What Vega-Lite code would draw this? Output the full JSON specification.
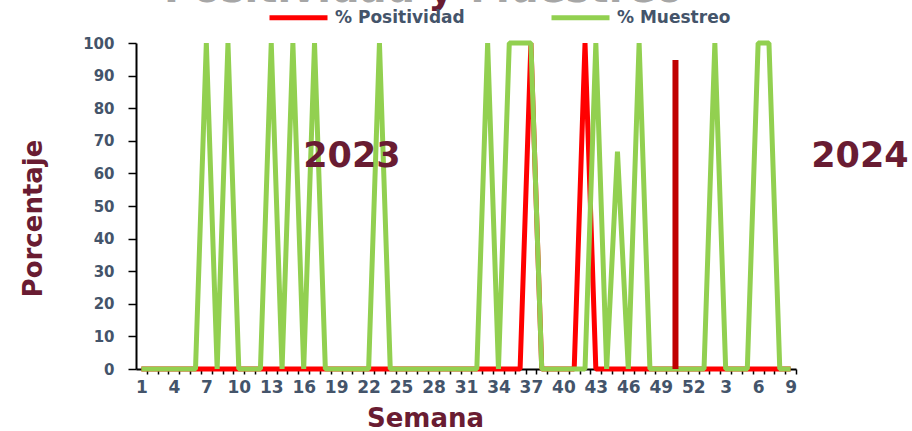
{
  "$schema": "https://vega.github.io/schema/vega-lite/v6.json",
  "width": 660,
  "height": 326,
  "autosize": {"type": "none"},
  "padding": {"left": 136, "top": 43, "right": 116, "bottom": 62},
  "background": "white",
  "config": {
    "view": {"stroke": null},
    "font": "DejaVu Sans",
    "axis": {"labelOverlap": false, "labelFlush": false, "labelBound": false}
  },
  "datasets": {
    "semanas": [
      {"idx":1,"pos":0,"mue":0},{"idx":2,"pos":0,"mue":0},{"idx":3,"pos":0,"mue":0},{"idx":4,"pos":0,"mue":0},
      {"idx":5,"pos":0,"mue":0},{"idx":6,"pos":0,"mue":0},{"idx":7,"pos":0,"mue":100},{"idx":8,"pos":0,"mue":0},
      {"idx":9,"pos":0,"mue":100},{"idx":10,"pos":0,"mue":0},{"idx":11,"pos":0,"mue":0},{"idx":12,"pos":0,"mue":0},
      {"idx":13,"pos":0,"mue":100},{"idx":14,"pos":0,"mue":0},{"idx":15,"pos":0,"mue":100},{"idx":16,"pos":0,"mue":0},
      {"idx":17,"pos":0,"mue":100},{"idx":18,"pos":0,"mue":0},{"idx":19,"pos":0,"mue":0},{"idx":20,"pos":0,"mue":0},
      {"idx":21,"pos":0,"mue":0},{"idx":22,"pos":0,"mue":0},{"idx":23,"pos":0,"mue":100},{"idx":24,"pos":0,"mue":0},
      {"idx":25,"pos":0,"mue":0},{"idx":26,"pos":0,"mue":0},{"idx":27,"pos":0,"mue":0},{"idx":28,"pos":0,"mue":0},
      {"idx":29,"pos":0,"mue":0},{"idx":30,"pos":0,"mue":0},{"idx":31,"pos":0,"mue":0},{"idx":32,"pos":0,"mue":0},
      {"idx":33,"pos":0,"mue":100},{"idx":34,"pos":0,"mue":0},{"idx":35,"pos":0,"mue":100},{"idx":36,"pos":0,"mue":100},
      {"idx":37,"pos":100,"mue":100},{"idx":38,"pos":0,"mue":0},{"idx":39,"pos":0,"mue":0},{"idx":40,"pos":0,"mue":0},
      {"idx":41,"pos":0,"mue":0},{"idx":42,"pos":100,"mue":0},{"idx":43,"pos":0,"mue":100},{"idx":44,"pos":0,"mue":0},
      {"idx":45,"pos":0,"mue":66.7},{"idx":46,"pos":0,"mue":0},{"idx":47,"pos":0,"mue":100},{"idx":48,"pos":0,"mue":0},
      {"idx":49,"pos":0,"mue":0},{"idx":50,"pos":0,"mue":0},{"idx":51,"pos":0,"mue":0},{"idx":52,"pos":0,"mue":0},
      {"idx":53,"pos":0,"mue":0},{"idx":54,"pos":0,"mue":100},{"idx":55,"pos":0,"mue":0},{"idx":56,"pos":0,"mue":0},
      {"idx":57,"pos":0,"mue":0},{"idx":58,"pos":0,"mue":100},{"idx":59,"pos":0,"mue":100},{"idx":60,"pos":0,"mue":0},
      {"idx":61,"pos":0,"mue":0}
    ]
  },
  "layer": [
    {
      "data": {"name": "semanas"},
      "mark": {"type": "line", "strokeWidth": 5, "strokeJoin": "bevel"},
      "encoding": {
        "x": {
          "field": "idx", "type": "quantitative",
          "scale": {"domain": [0.5, 61.5], "nice": false, "zero": false},
          "axis": {
            "values": [1,2,3,4,5,6,7,8,9,10,11,12,13,14,15,16,17,18,19,20,21,22,23,24,25,26,27,28,29,30,31,32,33,34,35,36,37,38,39,40,41,42,43,44,45,46,47,48,49,50,51,52,53,54,55,56,57,58,59,60,61],
            "tickCount": 100,
            "labelExpr": "(datum.value - 1) % 3 == 0 ? (datum.value > 52 ? datum.value - 52 : datum.value) : ''",
            "labelOverlap": false,
            "labelFlush": false,
            "labelFont": "DejaVu Sans",
            "labelFontWeight": "bold",
            "labelFontSize": 17,
            "labelColor": "#44546A",
            "labelPadding": 5,
            "tickOffset": 5.41,
            "labelOffset": -5.41,
            "tickSize": 5,
            "tickWidth": 1.5,
            "tickColor": "#000000",
            "domainColor": "#000000",
            "domainWidth": 2,
            "grid": false,
            "title": "Semana",
            "titleFont": "DejaVu Sans",
            "titleFontSize": 26,
            "titleFontWeight": "bold",
            "titleColor": "#691C32",
            "titleX": 289,
            "titleY": 57,
            "titleAlign": "center",
            "titleBaseline": "alphabetic"
          }
        },
        "y": {
          "field": "pos", "type": "quantitative",
          "scale": {"domain": [0, 100], "nice": false},
          "axis": {
            "values": [0,10,20,30,40,50,60,70,80,90,100],
            "tickCount": 100,
            "labelOverlap": false,
            "labelFont": "DejaVu Sans",
            "labelFontWeight": "bold",
            "labelFontSize": 15,
            "labelColor": "#44546A",
            "labelPadding": 14,
            "tickSize": 8,
            "tickWidth": 1.5,
            "tickColor": "#000000",
            "domainColor": "#000000",
            "domainWidth": 2,
            "grid": false,
            "title": "Porcentaje",
            "titleFont": "DejaVu Sans",
            "titleFontSize": 26,
            "titleFontWeight": "bold",
            "titleColor": "#691C32",
            "titleX": -103,
            "titleY": 175,
            "titleAlign": "center",
            "titleBaseline": "middle"
          }
        },
        "color": {
          "datum": "% Positividad", "type": "nominal",
          "scale": {"domain": ["% Positividad", "% Muestreo"], "range": ["#FF0000", "#92D050"]},
          "legend": {
            "orient": "none",
            "legendX": 131,
            "legendY": -57,
            "direction": "horizontal",
            "title": null,
            "symbolType": "stroke",
            "symbolSize": 3364,
            "symbolStrokeWidth": 5,
            "labelFont": "DejaVu Sans",
            "labelFontWeight": "bold",
            "labelFontSize": 17,
            "labelColor": "#44546A",
            "labelOffset": 5,
            "columnPadding": 76
          }
        }
      }
    },
    {
      "data": {"name": "semanas"},
      "mark": {"type": "line", "strokeWidth": 5, "strokeJoin": "bevel"},
      "encoding": {
        "x": {"field": "idx", "type": "quantitative"},
        "y": {"field": "mue", "type": "quantitative"},
        "color": {"datum": "% Muestreo", "type": "nominal"}
      }
    },
    {
      "data": {"values": [{"pos_x": 50.36, "desde": 0, "hasta": 94.8}]},
      "mark": {"type": "rule", "strokeWidth": 6, "color": "#C00000"},
      "encoding": {
        "x": {"field": "pos_x", "type": "quantitative"},
        "y": {"field": "desde", "type": "quantitative"},
        "y2": {"field": "hasta"}
      }
    },
    {
      "data": {"values": [{"anio": "2023", "px": 20.46, "py": 65.2}, {"anio": "2024", "px": 67.41, "py": 65.2}]},
      "mark": {"type": "text", "font": "DejaVu Sans", "fontWeight": "bold", "fontSize": 35, "color": "#691C32", "align": "center", "baseline": "middle"},
      "encoding": {
        "x": {"field": "px", "type": "quantitative"},
        "y": {"field": "py", "type": "quantitative"},
        "text": {"field": "anio"}
      }
    },
    {
      "data": {"values": [{"t": "Positividad", "px": 26.3, "py": 112.7}]},
      "mark": {"type": "text", "font": "DejaVu Sans", "fontWeight": "bold", "fontSize": 40, "color": "#A6A6A6", "align": "right", "baseline": "alphabetic"},
      "encoding": {
        "x": {"field": "px", "type": "quantitative"},
        "y": {"field": "py", "type": "quantitative"},
        "text": {"field": "t"}
      }
    },
    {
      "data": {"values": [{"t": "y", "px": 28.69, "py": 112.7}]},
      "mark": {"type": "text", "font": "DejaVu Sans", "fontWeight": "bold", "fontSize": 40, "color": "#691C32", "align": "center", "baseline": "alphabetic"},
      "encoding": {
        "x": {"field": "px", "type": "quantitative"},
        "y": {"field": "py", "type": "quantitative"},
        "text": {"field": "t"}
      }
    },
    {
      "data": {"values": [{"t": "Muestreo", "px": 31.4, "py": 112.7}]},
      "mark": {"type": "text", "font": "DejaVu Sans", "fontWeight": "bold", "fontSize": 40, "color": "#A6A6A6", "align": "left", "baseline": "alphabetic"},
      "encoding": {
        "x": {"field": "px", "type": "quantitative"},
        "y": {"field": "py", "type": "quantitative"},
        "text": {"field": "t"}
      }
    }
  ]
}
